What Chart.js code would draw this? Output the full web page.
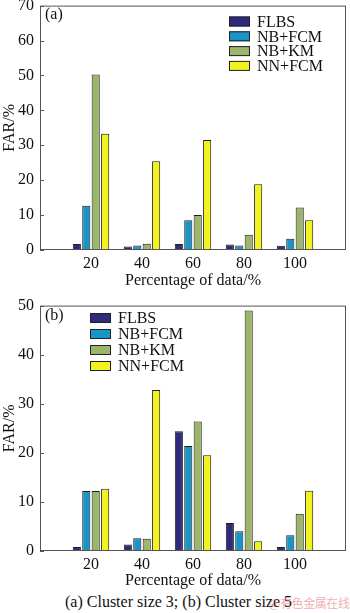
<!DOCTYPE html>
<html>
<head>
<meta charset="utf-8">
<script src="https://cdn.jsdelivr.net/npm/chart.js@4.4.0/dist/chart.umd.min.js"></script>
<style>
  body { margin:0; background:#fff; width:350px; height:613px; position:relative; overflow:hidden; font-family:"Liberation Serif", serif; }
  #chartA { position:absolute; left:0; top:-10px; }
  #chartB { position:absolute; left:0; top:290px; }
  #caption { position:absolute; left:65px; top:592px; font-size:16px; line-height:20px; color:#111; white-space:nowrap; }
  #mark { position:absolute; left:269px; top:593px; font-size:12px; letter-spacing:-0.4px; line-height:20px; color:rgba(225,90,90,0.5); font-family:"Noto Sans CJK SC", sans-serif; white-space:nowrap; }
</style>
</head>
<body>
<canvas id="chartA" width="350" height="300"></canvas>
<canvas id="chartB" width="350" height="300"></canvas>
<div id="caption">(a) Cluster size 3; (b) Cluster size 5</div>
<div id="mark">@有色金属在线</div>
<script>
// Data

var categories = ['20', '40', '60', '80', '100'];
var seriesNames = ['FLBS', 'NB+FCM', 'NB+KM', 'NN+FCM'];
var colors = ['#2f2a7c', '#1a93c6', '#9bb56b', '#f2f21e'];

// (a) Cluster size 3
var flbsA = [1.7, 1.0, 1.7, 1.6, 1.2];
var nbFcmA = [12.7, 1.3, 8.5, 1.3, 3.2];
var nbKmA = [50.3, 1.8, 10.0, 4.4, 12.2];
var nnFcmA = [33.3, 25.4, 31.5, 18.8, 8.5];
var yTicksA = [0, 10, 20, 30, 40, 50, 60, 70];

// (b) Cluster size 5
var flbsB = [0.8, 1.3, 24.4, 5.7, 0.8];
var nbFcmB = [12.2, 2.6, 21.4, 4.0, 3.2];
var nbKmB = [12.2, 2.5, 26.4, 49.0, 7.6];
var nnFcmB = [12.7, 32.8, 19.5, 2.0, 12.3];
var yTicksB = [0, 10, 20, 30, 40, 50];

var serif = '"Liberation Serif", "Times New Roman", serif';

// warm up the font so the first canvas does not fall back
var warm = document.createElement('canvas').getContext('2d');
warm.font = '16px ' + serif;
warm.fillText('FLBS 0123456789', 0, 10);

// Frame, inner y ticks, panel tag and legend
var framePlugin = {
  id: 'frame',
  afterDatasetsDraw: function(chart, args, opts) {
    var ctx = chart.ctx, a = chart.chartArea, y = chart.scales.y;
    ctx.save();
    ctx.strokeStyle = '#555';
    ctx.lineWidth = 1;
    ctx.strokeRect(a.left + 0.5, a.top + 0.5, a.right - a.left - 1, a.bottom - a.top - 1);
    y.ticks.forEach(function(t) {
      var py = Math.round(y.getPixelForValue(t.value)) + 0.5;
      ctx.beginPath();
      ctx.moveTo(a.left, py);
      ctx.lineTo(a.left + 4, py);
      ctx.stroke();
    });

    ctx.font = '16px ' + serif;
    ctx.textBaseline = 'middle';
    ctx.textAlign = 'left';
    ctx.fillStyle = '#111';
    ctx.fillText(opts.tag, opts.tagX, opts.tagY);

    chart.data.datasets.forEach(function(ds, i) {
      var cy = opts.legY + i * opts.legStep;
      ctx.fillStyle = ds.backgroundColor;
      ctx.fillRect(opts.legX, cy - 5, 21, 10);
      ctx.strokeStyle = '#222';
      ctx.strokeRect(opts.legX + 0.5, cy - 4.5, 20, 9);
      ctx.fillStyle = '#111';
      ctx.fillText(ds.label, opts.legX + 28, cy + 1);
    });
    ctx.restore();
  }
};

function makeChart(id, series, yTicks, padTop, xHeight, frameOpts) {
  var labels = [''].concat(categories, ['']);
  var datasets = series.map(function(vals, i) {
    return {
      label: seriesNames[i],
      data: [null].concat(vals, [null]),
      backgroundColor: colors[i],
      borderColor: '#1e1e1e',
      borderWidth: 1,
      categoryPercentage: 0.74,
      barPercentage: 0.86
    };
  });

  return new Chart(document.getElementById(id), {
    type: 'bar',
    data: { labels: labels, datasets: datasets },
    plugins: [framePlugin],
    options: {
      responsive: false,
      animation: false,
      layout: { padding: { top: padTop, right: 2, left: 0, bottom: 0 } },
      plugins: {
        legend: { display: false },
        tooltip: { enabled: false },
        frame: frameOpts
      },
      scales: {
        x: {
          offset: false,
          grid: { display: false, drawTicks: false },
          border: { display: false },
          ticks: { autoSkip: false, maxRotation: 0, padding: 4, color: '#111', font: { family: serif, size: 16 } },
          title: { display: true, text: 'Percentage of data/%', color: '#111', padding: 0, font: { family: serif, size: 16 } },
          afterFit: function(s) { s.height = xHeight; }
        },
        y: {
          min: yTicks[0],
          max: yTicks[yTicks.length - 1],
          afterBuildTicks: function(s) { s.ticks = yTicks.map(function(v) { return { value: v }; }); },
          grid: { display: false, drawTicks: false },
          border: { display: false },
          ticks: { padding: 6, color: '#111', font: { family: serif, size: 16 } },
          title: { display: true, text: 'FAR/%', color: '#111', padding: 0, font: { family: serif, size: 16 } },
          afterFit: function(s) { s.width = 40; }
        }
      }
    }
  });
}

var charts = [];

function drawAll() {
  charts.push(makeChart('chartA', [flbsA, nbFcmA, nbKmA, nnFcmA], yTicksA, 14, 40,
    { tag: '(a)', tagX: 45, tagY: 25, legX: 229, legY: 31.5, legStep: 14.8 }));

  charts.push(makeChart('chartB', [flbsB, nbFcmB, nbKmB, nnFcmB], yTicksB, 14, 39,
    { tag: '(b)', tagX: 45, tagY: 26, legX: 90, legY: 28, legStep: 16 }));
}

function redraw() {
  charts.forEach(function(c) { c.update('none'); });
}

drawAll();
document.fonts.ready.then(redraw);
setTimeout(redraw, 60);
</script>
</body>
</html>
